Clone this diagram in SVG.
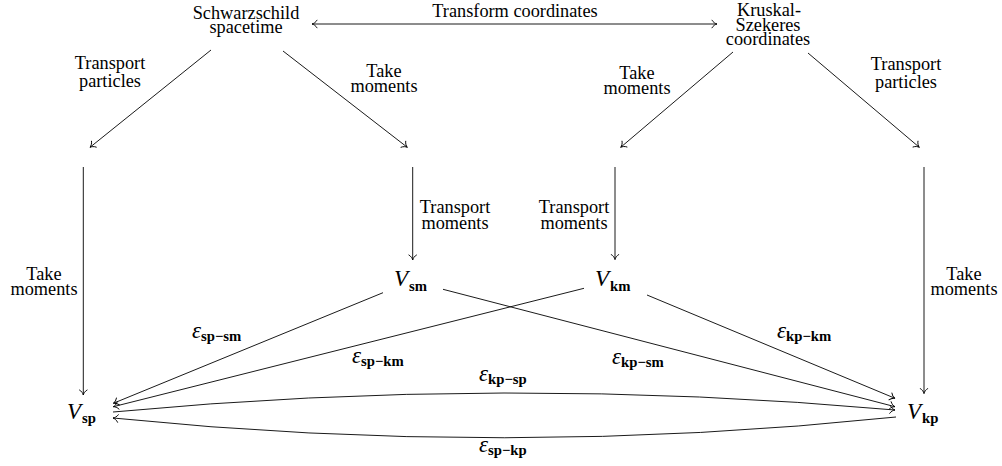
<svg xmlns="http://www.w3.org/2000/svg" width="1002" height="466" viewBox="0 0 1002 466">
<style>
.t{font-family:"Liberation Serif","Times New Roman",serif;font-size:18.3px;fill:#000;text-anchor:middle}
.m{font-family:"Liberation Serif","Times New Roman",serif;font-size:23px;font-style:italic;fill:#000}
.s{font-size:14.7px;font-weight:bold;font-style:normal}
.e{fill:none;stroke:#000;stroke-width:0.9}
</style>
<defs>
<marker id="ar" viewBox="-6 -5 7 10" refX="0" refY="0" markerWidth="7" markerHeight="10" markerUnits="userSpaceOnUse" orient="auto-start-reverse">
<path d="M-5,-3.8 C-3.8,-1.6 -1.6,-0.4 0,0 C-1.6,0.4 -3.8,1.6 -5,3.8" fill="none" stroke="#000" stroke-width="0.9" stroke-linecap="round"/>
</marker>
</defs>
<g id="schwarzschild">
<text class="t" x="246" y="19"><tspan x="246">Schwarzschild</tspan><tspan x="246" y="33">spacetime</tspan></text>
</g>
<g id="kruskal">
<text class="t" x="769" y="15.5"><tspan x="769">Kruskal-</tspan><tspan x="768" y="30.5">Szekeres</tspan><tspan x="768" y="45">coordinates</tspan></text>
</g>
<g id="Vsm"><text class="m" x="394" y="286">V<tspan class="s" dx="1" dy="4.5">sm</tspan></text></g>
<g id="Vkm"><text class="m" x="595" y="286">V<tspan class="s" dx="1" dy="4.5">km</tspan></text></g>
<g id="Vsp"><text class="m" x="67" y="419">V<tspan class="s" dx="1" dy="4">sp</tspan></text></g>
<g id="Vkp"><text class="m" x="907" y="419">V<tspan class="s" dx="1" dy="4">kp</tspan></text></g>
<g id="connectors">
<path class="e" d="M312,24 L717,24" marker-start="url(#ar)" marker-end="url(#ar)"/>
<path class="e" d="M211,50 L90,147.3" marker-end="url(#ar)"/>
<path class="e" d="M283,51 L407.3,147.3" marker-end="url(#ar)"/>
<path class="e" d="M733,52 L620.7,147.3" marker-end="url(#ar)"/>
<path class="e" d="M808,53 L919.3,147.3" marker-end="url(#ar)"/>
<path class="e" d="M83.3,167 L83.3,395" marker-end="url(#ar)"/>
<path class="e" d="M412.7,167 L412.7,260" marker-end="url(#ar)"/>
<path class="e" d="M615,167 L615,259.5" marker-end="url(#ar)"/>
<path class="e" d="M924,167 L924,393.5" marker-end="url(#ar)"/>
<path class="e" d="M383,292.7 L113.3,403.3" marker-end="url(#ar)"/>
<path class="e" d="M443,289.3 L895,406.7" marker-end="url(#ar)"/>
<path class="e" d="M584,288.3 L113.3,406.7" marker-end="url(#ar)"/>
<path class="e" d="M647,295 L895,398.3" marker-end="url(#ar)"/>
<path class="e" d="M113,412 Q504,375 895,410" marker-end="url(#ar)"/>
<path class="e" d="M896,417 Q505,458 113,418" marker-end="url(#ar)"/>
<text class="t" x="515" y="17">Transform coordinates</text>
<text class="t" x="110" y="68.5"><tspan x="110">Transport</tspan><tspan x="110" y="87">particles</tspan></text>
<text class="t" x="384" y="77"><tspan x="384">Take</tspan><tspan x="384" y="91.5">moments</tspan></text>
<text class="t" x="637" y="79"><tspan x="637">Take</tspan><tspan x="637" y="93.5">moments</tspan></text>
<text class="t" x="906" y="69.5"><tspan x="906">Transport</tspan><tspan x="906" y="88">particles</tspan></text>
<text class="t" x="44" y="280"><tspan x="44">Take</tspan><tspan x="44" y="294.5">moments</tspan></text>
<text class="t" x="964" y="280"><tspan x="964">Take</tspan><tspan x="964" y="294.5">moments</tspan></text>
<text class="t" x="455" y="212.5"><tspan x="455">Transport</tspan><tspan x="455" y="229">moments</tspan></text>
<text class="t" x="574" y="212.5"><tspan x="574">Transport</tspan><tspan x="574" y="229">moments</tspan></text>
<text class="m" x="192" y="338">ε<tspan class="s" dy="3">sp−sm</tspan></text>
<text class="m" x="352" y="363">ε<tspan class="s" dy="3">sp−km</tspan></text>
<text class="m" x="479" y="381">ε<tspan class="s" dy="3">kp−sp</tspan></text>
<text class="m" x="479" y="452">ε<tspan class="s" dy="3">sp−kp</tspan></text>
<text class="m" x="612" y="364">ε<tspan class="s" dy="3">kp−sm</tspan></text>
<text class="m" x="777" y="338">ε<tspan class="s" dy="3">kp−km</tspan></text>
</g>
</svg>
